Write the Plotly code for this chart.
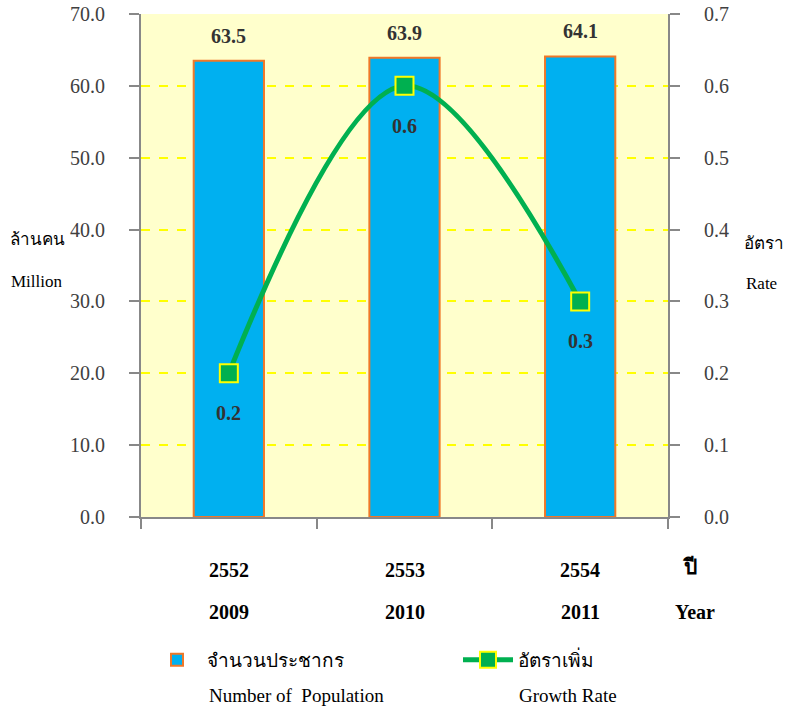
import plotly.graph_objects as go

years_th = ["2552", "2553", "2554"]
years_en = ["2009", "2010", "2011"]
population = [63.5, 63.9, 64.1]
growth = [0.2, 0.6, 0.3]

FONT = "Liberation Serif, Times New Roman, serif"
TICK_COLOR = "#404040"

fig = go.Figure()
fig.add_trace(go.Bar(
    x=years_th, y=population, width=0.4,
    marker=dict(color="#00B0F0", line=dict(color="#F07828", width=2)),
    name="จำนวนประชากร", legend="legend",
))
fig.add_trace(go.Scatter(
    x=years_th, y=growth, yaxis="y2", mode="lines+markers",
    line=dict(color="#00B050", width=5, shape="spline", smoothing=1.0),
    marker=dict(symbol="square", size=18, color="#00B050", line=dict(color="#FFFF00", width=2)),
    name="อัตราเพิ่ม", legend="legend2",
))

ann = []
for i, v in enumerate(population):
    ann.append(dict(x=i, y=v, xref="x", yref="y", text=f"<b>{v:.1f}</b>", showarrow=False,
                    yshift=25, font=dict(size=20, color="#333333", family=FONT)))
for i, v in enumerate(growth):
    ann.append(dict(x=i, y=v, xref="x", yref="y2", text=f"<b>{v:.1f}</b>", showarrow=False,
                    yshift=-40, font=dict(size=20, color="#333333", family=FONT)))
for i, (a, b) in enumerate(zip(years_th, years_en)):
    ann.append(dict(x=i, y=0, xref="x", yref="y", text=f"<b>{a}</b>", showarrow=False,
                    yshift=-53, font=dict(size=20, color="black", family=FONT)))
    ann.append(dict(x=i, y=0, xref="x", yref="y", text=f"<b>{b}</b>", showarrow=False,
                    yshift=-95, font=dict(size=20, color="black", family=FONT)))

# paper coords relative to the plot area (page x 141..668, y 14..517)
def px(xp):
    return (xp - 141) / 527.0
def py(yp):
    return (517 - yp) / 503.0

def txt(x, y, t, size=20, bold=False, xanchor="center"):
    return dict(x=px(x), y=py(y), xref="paper", yref="paper", xanchor=xanchor, yanchor="middle",
                text=(f"<b>{t}</b>" if bold else t), showarrow=False,
                font=dict(size=size, color="black", family=FONT))

ann += [
    txt(8, 240, "ล้านคน", 17, xanchor="left"),
    txt(9, 281, "Million", 17, xanchor="left"),
    txt(742, 243, "อัตรา", 17, xanchor="left"),
    txt(744, 283, "Rate", 17, xanchor="left"),
    txt(689, 567, "ปี", 21, True),
    txt(695, 612, "Year", 20, True),
    txt(207, 695, "Number of  Population", 19, xanchor="left"),
    txt(517, 695, "Growth Rate", 19, xanchor="left"),
]

legend_common = dict(orientation="h", xanchor="left", yanchor="top",
                     font=dict(size=19, color="black", family=FONT), itemwidth=50,
                     bgcolor="rgba(0,0,0,0)")

fig.update_layout(
    width=789, height=707,
    margin=dict(l=141, r=121, t=14, b=190, autoexpand=False),
    paper_bgcolor="white", plot_bgcolor="#FFFFCC",
    showlegend=True,
    legend=dict(x=px(147), y=py(641), **legend_common),
    legend2=dict(x=px(458), y=py(641), **legend_common),
    annotations=ann,
    font=dict(family=FONT),
    xaxis=dict(type="category", showticklabels=False, tickson="boundaries", automargin=False,
               ticks="outside", ticklen=10, tickcolor="#888888", tickwidth=2,
               showline=True, linecolor="#888888", linewidth=2, showgrid=False,
               range=[-0.5, 2.5]),
    yaxis=dict(range=[0, 70], dtick=10, tickformat=".1f", ticks="outside", ticklen=10,
               automargin=False, ticklabeloverflow="allow",
               tickcolor="#888888", tickwidth=2, showline=True, linecolor="#888888", linewidth=2,
               gridcolor="#FFFF00", griddash="dash", gridwidth=2, zeroline=False,
               ticklabelstandoff=20,
               tickfont=dict(size=20, color=TICK_COLOR, family=FONT)),
    yaxis2=dict(range=[0, 0.7], dtick=0.1, tickformat=".1f", ticks="outside", ticklen=10,
                automargin=False, ticklabeloverflow="allow",
                tickcolor="#888888", tickwidth=2, showline=True, linecolor="#888888", linewidth=2,
                overlaying="y", side="right", showgrid=False, zeroline=False,
                ticklabelstandoff=20,
                tickfont=dict(size=20, color=TICK_COLOR, family=FONT)),
)

fig.write_html("out.html", config={"displayModeBar": False},
               post_script="document.body.style.margin='0';document.body.style.overflow='hidden';")
